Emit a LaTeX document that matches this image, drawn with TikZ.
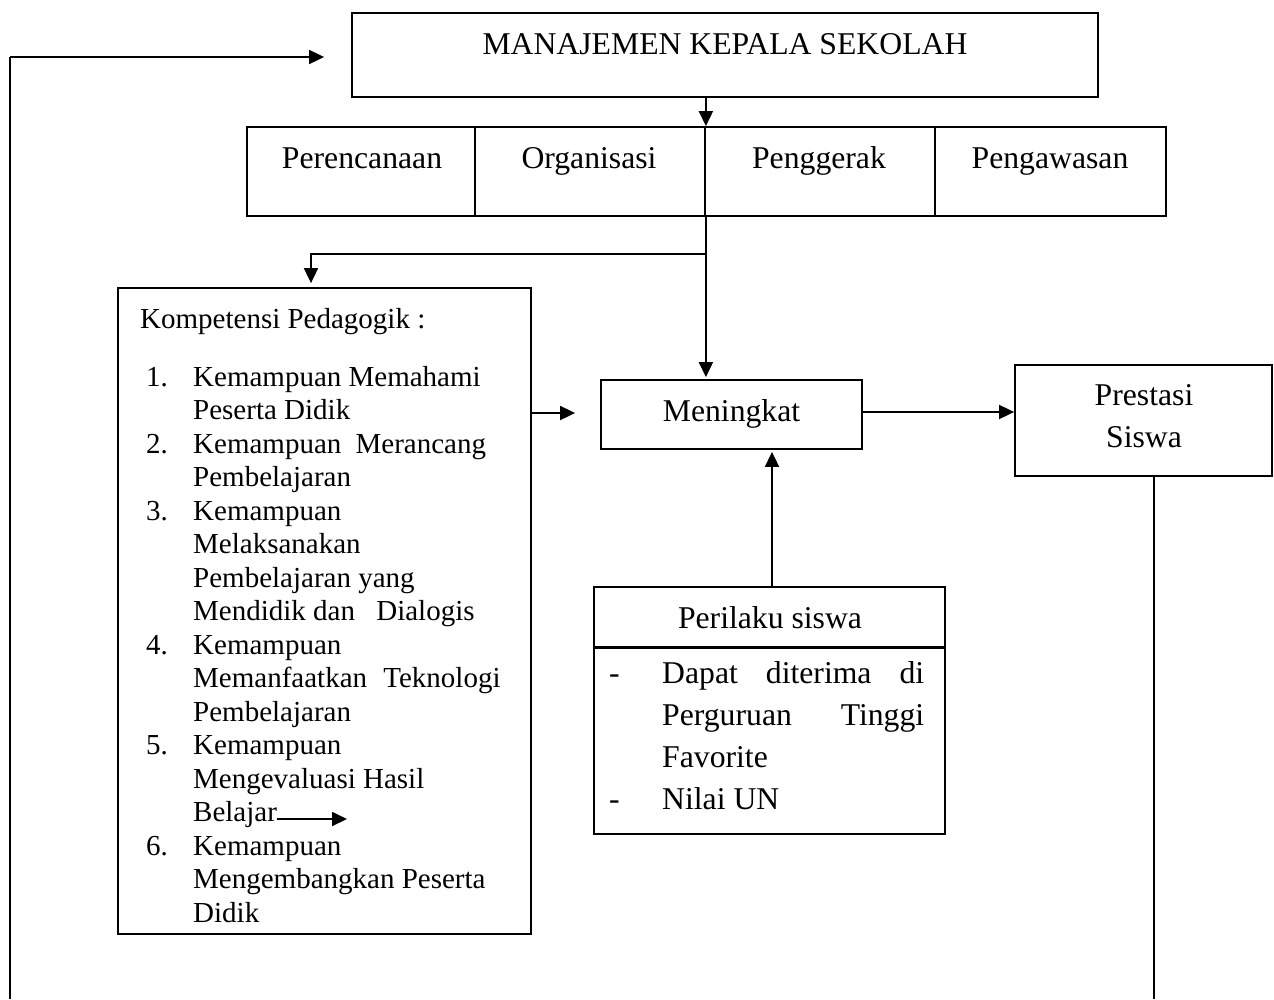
\documentclass[tikz,border=0pt]{standalone}
\usepackage{fontspec}
\setmainfont{Liberation Serif}
\usetikzlibrary{arrows.meta}
\begin{document}
\begin{tikzpicture}[x=1pt,y=-1pt,
  box/.style={draw, line width=1.8pt, inner sep=0pt},
  big/.style={inner sep=0pt, font=\fontsize{31.7}{38}\selectfont},
  lst/.style={inner sep=0pt, anchor=base west, font=\fontsize{29}{33.5}\selectfont},
  arr/.style={line width=1.8pt, -{Triangle[length=15pt,width=14pt]}},
  ln/.style={line width=1.8pt}]
\useasboundingbox (0,0) rectangle (1274,999);
% boxes
\node[box, minimum width=746pt, minimum height=84pt] (top) at (725,55) {};
\node[big, anchor=base] (toptxt) at (725,54) {MANAJEMEN KEPALA SEKOLAH};
\node[box, minimum width=228pt, minimum height=89pt] (f1) at (361,171.5) {};
\node[box, minimum width=230pt, minimum height=89pt] (f2) at (590,171.5) {};
\node[box, minimum width=230pt, minimum height=89pt] (f3) at (820,171.5) {};
\node[box, minimum width=231pt, minimum height=89pt] (f4) at (1050.5,171.5) {};
\node[big, anchor=base] (f1t) at (362,168) {Perencanaan};
\node[big, anchor=base] (f2t) at (589,168) {Organisasi};
\node[big, anchor=base] (f3t) at (819,168) {Penggerak};
\node[big, anchor=base] (f4t) at (1050,168) {Pengawasan};
\node[box, minimum width=413pt, minimum height=646pt] (komp) at (324.5,611) {};
\node[box, minimum width=261pt, minimum height=69pt] (men) at (731.5,414.5) {};
\node[big, anchor=base] (ment) at (731.5,421) {Meningkat};
\node[box, minimum width=257pt, minimum height=111pt] (pres) at (1143.5,420.5) {};
\node[big, anchor=base] (prest1) at (1144,405) {Prestasi};
\node[big, anchor=base] (prest2) at (1144,447) {Siswa};
\node[box, minimum width=351pt, minimum height=247pt] (per) at (769.5,710.5) {};
\draw[line width=3pt] (per.west |- 0,647) -- (per.east |- 0,647);
\node[big, anchor=base] (pert) at (770,628) {Perilaku siswa};
\node[big, anchor=base west] (pd1) at (609,683) {-};
\node[big, anchor=base west] (pl1) at (662,683) {\hbox to 262pt{Dapat\hfill diterima\hfill di}};
\node[big, anchor=base west] (pl2) at (662,725) {\hbox to 262pt{Perguruan\hfill Tinggi}};
\node[big, anchor=base west] (pl3) at (662,767) {Favorite};
\node[big, anchor=base west] (pd2) at (609,809) {-};
\node[big, anchor=base west] (pl4) at (662,809) {Nilai UN};
% list
\node[lst] (kh) at (140,328) {Kompetensi Pedagogik :};
\foreach \i/\t in {0/{Kemampuan Memahami},1/{Peserta Didik},2/{Kemampuan\hspace{7pt} Merancang},3/{Pembelajaran},4/{Kemampuan},5/{Melaksanakan},6/{Pembelajaran yang},7/{Mendidik dan\hspace{14pt} Dialogis},8/{Kemampuan},9/{Memanfaatkan\hspace{9pt} Teknologi},10/{Pembelajaran},11/{Kemampuan},12/{Mengevaluasi Hasil},13/{Belajar},14/{Kemampuan},15/{Mengembangkan Peserta},16/{Didik}}
  \node[lst] (kl\i) at (193,386+\i*33.5) {\t};
\foreach \i/\n in {0/1,2/2,4/3,8/4,11/5,14/6}
  \node[lst] (kn\n) at (146,386+\i*33.5) {\n.};
% connectors
\coordinate (lb) at (10,999);
\coordinate (fb) at (10,57);
\coordinate (rb) at (1154,999);
\coordinate (br) at (705,254);
\coordinate (bl0) at (277,819);
\coordinate (bl1) at (347,819);
\draw[ln] (lb) -- (fb);
\draw[arr, shorten >=27pt] (fb) -- (fb -| top.west);
\draw[arr] (top.south -| f2.east) -- (f2.north east);
\draw[arr, shorten >=2pt] (f2.south east) -- (f2.south east |- men.north);
\draw[arr, shorten >=4pt] (br) -- (br -| 311,0) -- (komp.north -| 311,0);
\draw[arr, shorten >=25pt] (komp.east |- 0,413) -- (men.west |- 0,413);
\draw[arr] (men.east |- 0,412) -- (pres.west |- 0,412);
\draw[arr, shorten >=2pt] (per.north -| 772,0) -- (men.south -| 772,0);
\draw[ln] (rb |- pres.south) -- (rb);
\draw[arr] (bl0) -- (bl1);
\end{tikzpicture}
\end{document}
